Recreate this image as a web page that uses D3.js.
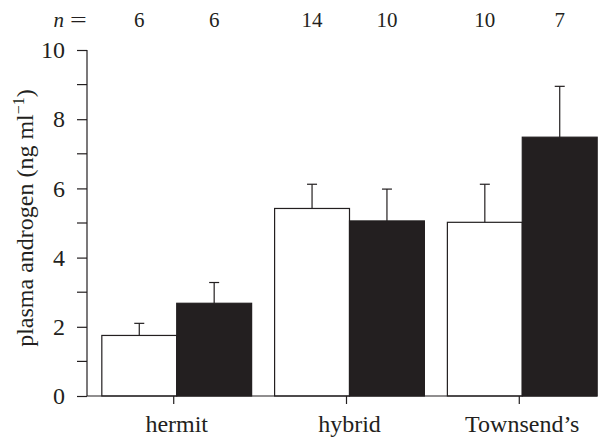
<!DOCTYPE html>
<html>
<head>
<meta charset="utf-8">
<script src="https://d3js.org/d3.v7.min.js"></script>
<style>
    body { margin: 0; background: #fff; }
    svg { display: block; }
    text { font-family: "Liberation Serif", "Times New Roman", serif; fill: #231f20; }
</style>
</head>
<body>
<svg id="chart" width="603" height="438"></svg>
<script>
    // datos
    const categories = ["hermit", "hybrid", "Townsend\u2019s"];
    const series = ["white", "black"];
    const meanWhite = [1.75, 5.42, 5.02];
    const seWhite = [0.35, 0.70, 1.10];
    const meanBlack = [2.68, 5.06, 7.48];
    const seBlack = [0.60, 0.92, 1.47];
    const nWhite = [6, 14, 10];
    const nBlack = [6, 10, 7];
    const yTicks = [0, 2, 4, 6, 8, 10];
    const yMinorTicks = [1, 3, 5, 7, 9];

    const ink = "#231f20";
    const svg = d3.select("#chart");

    const x = d3.scaleBand()
        .domain(categories)
        .range([88, 611])
        .paddingInner(0.133)
        .paddingOuter(0.08);

    const xs = d3.scaleBand()
        .domain(series)
        .range([0, x.bandwidth()]);

    const y = d3.scaleLinear()
        .domain([0, 10])
        .range([396, 50]);

    const rows = [];
    categories.forEach((c, i) => {
        rows.push({cat: c, s: "white", mean: meanWhite[i], se: seWhite[i], n: nWhite[i]});
        rows.push({cat: c, s: "black", mean: meanBlack[i], se: seBlack[i], n: nBlack[i]});
    });

    // barras
    svg.append("g").selectAll("rect")
        .data(rows)
        .join("rect")
        .attr("x", d => x(d.cat) + xs(d.s))
        .attr("y", d => y(d.mean))
        .attr("width", xs.bandwidth())
        .attr("height", d => y(0) - y(d.mean))
        .attr("fill", d => d.s === "white" ? "#fff" : ink)
        .attr("stroke", ink)
        .attr("stroke-width", 1.2);

    // barras de error (solo hacia arriba)
    const err = svg.append("g").attr("stroke", ink).attr("stroke-width", 1.2);
    rows.forEach(d => {
        const cx = x(d.cat) + xs(d.s) + xs.bandwidth() / 2;
        err.append("line")
            .attr("x1", cx).attr("x2", cx)
            .attr("y1", y(d.mean)).attr("y2", y(d.mean + d.se));
        err.append("line")
            .attr("x1", cx - 5).attr("x2", cx + 5)
            .attr("y1", y(d.mean + d.se)).attr("y2", y(d.mean + d.se));
    });

    // eje y
    const yAxis = svg.append("g")
        .attr("transform", "translate(87,0)")
        .call(d3.axisLeft(y).tickValues(yTicks).tickSize(10).tickPadding(12));
    yAxis.selectAll("text").attr("font-size", 24);
    yAxis.selectAll("line, path").attr("stroke", ink).attr("stroke-width", 1.2);
    yAxis.select(".domain").attr("d", `M0,${y(10)}V${y(0)}`);

    svg.append("g")
        .attr("transform", "translate(87,0)")
        .selectAll("line")
        .data(yMinorTicks)
        .join("line")
        .attr("x1", -10).attr("x2", 0)
        .attr("y1", d => y(d)).attr("y2", d => y(d))
        .attr("stroke", ink).attr("stroke-width", 1.2);

    // eje x
    const xAxis = svg.append("g")
        .attr("transform", `translate(0,${y(0)})`)
        .call(d3.axisBottom(x).tickSize(8));
    xAxis.selectAll("text").attr("font-size", 24).attr("y", 36).attr("dy", 0);
    xAxis.selectAll("line, path").attr("stroke", ink).attr("stroke-width", 1.2);
    xAxis.selectAll(".tick line").attr("transform", "translate(-3,0)");
    xAxis.select(".domain").attr("d", `M87,0H${x(categories[2]) + x.bandwidth()}`);

    // etiqueta del eje y
    const yl = svg.append("text")
        .attr("transform", `translate(33,218) rotate(-90)`)
        .attr("text-anchor", "middle")
        .attr("font-size", 24);
    yl.append("tspan").text("plasma androgen (ng ml");
    yl.append("tspan").attr("dy", -9).attr("font-size", 16).text("\u22121");
    yl.append("tspan").attr("dy", 9).text(")");

    // tamaños de muestra
    svg.append("text")
        .attr("x", 64).attr("y", 27)
        .attr("text-anchor", "end")
        .attr("font-size", 21)
        .attr("font-style", "italic")
        .text("n");
    svg.append("text")
        .attr("transform", "translate(70,27) scale(1.35,1)")
        .attr("font-size", 22)
        .text("=");

    svg.append("g").selectAll("text")
        .data(rows)
        .join("text")
        .attr("x", d => x(d.cat) + xs(d.s) + xs.bandwidth() / 2)
        .attr("y", 27)
        .attr("text-anchor", "middle")
        .attr("font-size", 21)
        .text(d => d.n);
</script>
</body>
</html>
